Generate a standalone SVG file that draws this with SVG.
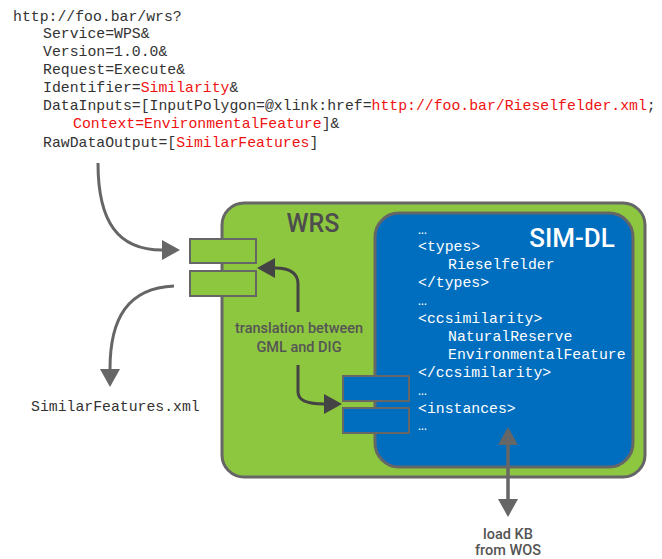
<svg xmlns="http://www.w3.org/2000/svg" width="662" height="559" viewBox="0 0 662 559">
<defs>
<style>
.code{font-family:"Liberation Mono","DejaVu Sans Mono",monospace;font-size:14.8px;fill:#333}
.red{fill:#ee1111}
.wcode{font-family:"Liberation Mono","DejaVu Sans Mono",monospace;font-size:14.8px;fill:#ffffff}
.lbl{font-family:"Roboto","DejaVu Sans",sans-serif;font-weight:500;font-size:14.5px;fill:#555;text-anchor:middle}
.title{font-family:"Roboto","DejaVu Sans",sans-serif;font-weight:500;font-size:25px}
.gport{fill:#8dc63f;stroke:#666;stroke-width:2}
.bport{fill:#006ebe;stroke:#666;stroke-width:2}
.conn{fill:none;stroke:#666;stroke-width:3}
.conn2{fill:none;stroke:#444;stroke-width:3}
</style>
<marker id="ah" viewBox="0 0 18 20" refX="0" refY="10" markerWidth="18" markerHeight="20" markerUnits="userSpaceOnUse" orient="auto"><path d="M0,0 L18,10 L0,20 Z" fill="#666"/></marker>
<marker id="ah2" viewBox="0 0 18 20" refX="0" refY="10" markerWidth="18" markerHeight="20" markerUnits="userSpaceOnUse" orient="auto"><path d="M0,0 L18,10 L0,20 Z" fill="#444"/></marker>
</defs>
<rect width="662" height="559" fill="#fff"/>
<g id="request">
<text class="code" x="13" y="21">http://foo.bar/wrs?</text>
<text class="code" x="43" y="38">Service=WPS&amp;</text>
<text class="code" x="43" y="56">Version=1.0.0&amp;</text>
<text class="code" x="43" y="74">Request=Execute&amp;</text>
<text class="code" x="43" y="92">Identifier=<tspan class="red">Similarity</tspan>&amp;</text>
<text class="code" x="43" y="110">DataInputs=[InputPolygon=@xlink:href=<tspan class="red">http://foo.bar/Rieselfelder.xml</tspan>;</text>
<text class="code" x="73" y="128"><tspan class="red">Context=EnvironmentalFeature</tspan>]&amp;</text>
<text class="code" x="43" y="147">RawDataOutput=[<tspan class="red">SimilarFeatures</tspan>]</text>
</g>
<g id="wrs">
<rect x="222" y="203" width="423" height="274" rx="22" fill="#8dc63f" stroke="#666" stroke-width="3"/>
<text class="title" x="313" y="232" text-anchor="middle" fill="#4d4d4d">WRS</text>
</g>
<g id="simdl">
<rect x="375" y="213" width="258" height="254" rx="24" fill="#006ebe" stroke="#666" stroke-width="3"/>
<text class="title" x="572" y="247" text-anchor="middle" fill="#fff" style="font-size:26px">SIM-DL</text>
<text class="wcode" x="418" y="233.5">…</text>
<text class="wcode" x="418" y="251.4">&lt;types&gt;</text>
<text class="wcode" x="448" y="269.3">Rieselfelder</text>
<text class="wcode" x="418" y="287.2">&lt;/types&gt;</text>
<text class="wcode" x="418" y="305.1">…</text>
<text class="wcode" x="418" y="323">&lt;ccsimilarity&gt;</text>
<text class="wcode" x="448" y="340.9">NaturalReserve</text>
<text class="wcode" x="448" y="358.8">EnvironmentalFeature</text>
<text class="wcode" x="418" y="376.7">&lt;/ccsimilarity&gt;</text>
<text class="wcode" x="418" y="394.6">…</text>
<text class="wcode" x="418" y="412.5">&lt;instances&gt;</text>
<text class="wcode" x="418" y="430.4">…</text>
</g>
<g id="wrs-ports">
<rect class="gport" x="190" y="239" width="66" height="24"/>
<rect class="gport" x="190" y="271" width="66" height="25"/>
</g>
<g id="simdl-ports">
<rect class="bport" x="343" y="376" width="66" height="25"/>
<rect class="bport" x="343" y="408" width="66" height="25"/>
</g>
<g id="connectors">
<path class="conn" d="M98,163 C98,222 118,250 162,250" marker-end="url(#ah)"/>
<path class="conn" d="M174,286 C128,288 110,318 110,369" marker-end="url(#ah)"/>
<path class="conn2" d="M298,312 L298,284 Q298,268 275,268" marker-end="url(#ah2)"/>
<path class="conn2" d="M298,365 L298,392 Q298,404 324,404" marker-end="url(#ah2)"/>
<path class="conn" d="M508,499 L508,445" marker-end="url(#ah)"/>
<path class="conn" d="M508,445 L508,499" marker-end="url(#ah)"/>
</g>
<g id="labels">
<text class="lbl" x="299" y="333">translation between</text>
<text class="lbl" x="299" y="352">GML and DIG</text>
<text class="code" x="31" y="411">SimilarFeatures.xml</text>
<text class="lbl" x="508" y="539" fill="#666">load KB</text>
<text class="lbl" x="508" y="555" fill="#666">from WOS</text>
</g>
</svg>
